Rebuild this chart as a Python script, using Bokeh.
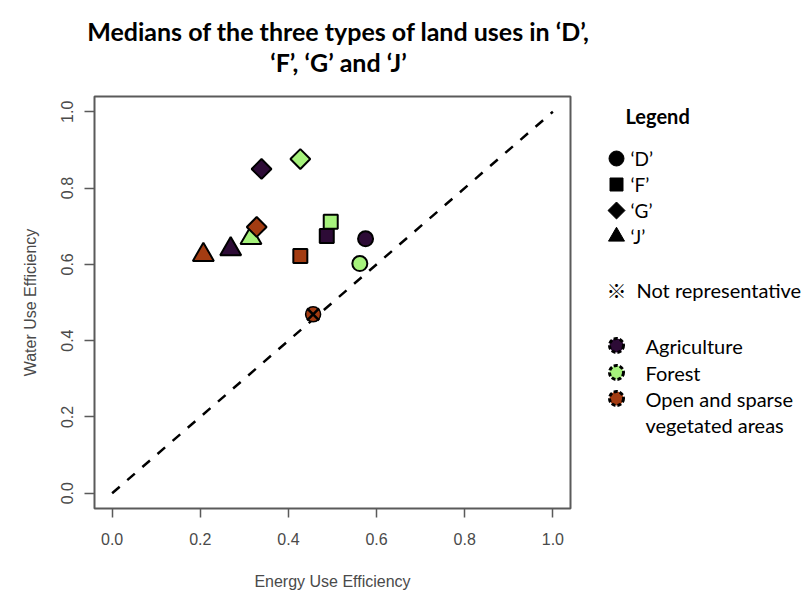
import math

from bokeh.core.properties import value
from bokeh.embed import file_html
from bokeh.layouts import column, row
from bokeh.models import ColumnDataSource, FixedTicker, Range1d
from bokeh.plotting import figure
from bokeh.resources import INLINE

# ---------------------------------------------------------------------------
# Data: median energy / water use efficiency per site and land-use type
# ---------------------------------------------------------------------------
sites = ["D", "F", "G", "J"]

agri_eue = [0.575, 0.487, 0.339, 0.269]
agri_wue = [0.667, 0.674, 0.850, 0.640]

forest_eue = [0.562, 0.496, 0.427, 0.315]
forest_wue = [0.602, 0.712, 0.876, 0.669]

open_eue = [0.456, 0.427, 0.328, 0.207]
open_wue = [0.469, 0.622, 0.698, 0.625]
open_representative = [False, True, True, True]

one_to_one = [0.0, 1.0]

tick_values = [0.0, 0.2, 0.4, 0.6, 0.8, 1.0]
tick_labels = ["0.0", "0.2", "0.4", "0.6", "0.8", "1.0"]

land_uses = ["Agriculture", "Forest", "Open and sparse", "vegetated areas"]

# ---------------------------------------------------------------------------
# Styling
# ---------------------------------------------------------------------------
AGRI = "#2d0b36"
FOREST = "#a6f27c"
OPEN = "#a33c12"
AXIS_GREY = "#4a4a4a"
BOX_GREY = "#5a5a5a"

# site -> (marker, size, angle)
SITE_SHAPE = {
    "D": ("circle", 15, 0.0),
    "F": ("square", 14, 0.0),
    "G": ("square", 14, math.pi / 4),  # diamond
    "J": ("triangle", 21, 0.0),
}

W, H = 802, 598
TITLE_H = 88
LEG_W = 212
MAIN_W = W - LEG_W
BODY_H = H - TITLE_H
BORDER_TOP, BORDER_BOTTOM = 8, 90
FRAME_TOP = TITLE_H + BORDER_TOP          # page y of the plot frame top
FRAME_BOTTOM = H - BORDER_BOTTOM          # page y of the plot frame bottom


def bare(fig):
    fig.axis.visible = False
    fig.grid.visible = False
    fig.outline_line_color = None
    fig.background_fill_color = "white"
    fig.border_fill_color = "white"
    return fig


# ---------------------------------------------------------------------------
# Title strip
# ---------------------------------------------------------------------------
tf = bare(figure(width=W, height=TITLE_H, x_range=Range1d(0, W), y_range=Range1d(TITLE_H, 0),
                 toolbar_location=None, output_backend="svg", min_border=0))
tf.text(x=[338, 338], y=[30, 61],
        text=["Medians of the three types of land uses in \u2018D\u2019,",
              "\u2018F\u2019, \u2018G\u2019 and \u2018J\u2019"],
        text_font=value("Lato"), text_font_size="25px", text_font_style="bold",
        text_align="center", text_baseline="middle", text_color="black")

# ---------------------------------------------------------------------------
# Main scatter plot
# ---------------------------------------------------------------------------
p = figure(width=MAIN_W, height=BODY_H,
           x_range=Range1d(-0.04, 1.04), y_range=Range1d(-0.04, 1.04),
           toolbar_location=None, output_backend="svg",
           min_border_left=94, min_border_right=MAIN_W - 94 - 476,
           min_border_top=BORDER_TOP, min_border_bottom=BORDER_BOTTOM)
p.grid.visible = False
p.background_fill_color = "white"
p.border_fill_color = "white"
p.outline_line_color = BOX_GREY
p.outline_line_width = 2

for ax in (p.xaxis[0], p.yaxis[0]):
    ax.ticker = FixedTicker(ticks=tick_values)
    ax.major_label_overrides = dict(zip(tick_values, tick_labels))
    ax.minor_tick_line_color = None
    ax.axis_line_color = None
    ax.major_tick_line_color = BOX_GREY
    ax.major_tick_line_width = 1.5
    ax.major_tick_in = 0
    ax.major_label_text_font = "Liberation Sans"
    ax.major_label_text_font_size = "16px"
    ax.major_label_text_color = AXIS_GREY
    ax.axis_label_text_font = "Liberation Sans"
    ax.axis_label_text_font_size = "16px"
    ax.axis_label_text_font_style = "normal"
    ax.axis_label_text_color = AXIS_GREY

p.xaxis.axis_label = "Energy Use Efficiency"
p.xaxis.major_tick_out = 9
p.xaxis.major_label_standoff = 15
p.xaxis.axis_label_standoff = 25

p.yaxis.axis_label = "Water Use Efficiency"
p.yaxis.major_tick_out = 10
p.yaxis.major_label_orientation = "vertical"
p.yaxis.major_label_standoff = 11
p.yaxis.axis_label_standoff = 20

# 1:1 reference line
p.line(one_to_one, one_to_one, line_color="black", line_width=2.5, line_dash="10 10")


def series_source(xs, ys):
    shapes = [SITE_SHAPE[s] for s in sites]
    return ColumnDataSource(dict(
        x=xs, y=ys, site=sites,
        marker=[s[0] for s in shapes],
        size=[s[1] for s in shapes],
        angle=[s[2] for s in shapes],
    ))


def keep(src, mask):
    return ColumnDataSource({k: [v for v, m in zip(vals, mask) if m]
                             for k, vals in src.data.items()})


agri_src = series_source(agri_eue, agri_wue)
forest_src = series_source(forest_eue, forest_wue)
open_src = series_source(open_eue, open_wue)

for src, colour in ((agri_src, AGRI), (forest_src, FOREST)):
    p.scatter("x", "y", source=src, marker="marker", size="size", angle="angle",
              fill_color=colour, line_color="black", line_width=2)

open_ok = keep(open_src, open_representative)
open_bad = keep(open_src, [not r for r in open_representative])
p.scatter("x", "y", source=open_ok, marker="marker", size="size", angle="angle",
          fill_color=OPEN, line_color="black", line_width=2)
p.scatter("x", "y", source=open_bad, marker="marker", size="size", angle="angle",
          fill_color=OPEN, line_color="black", line_width=1.5)
p.scatter("x", "y", source=open_bad, marker="x", size=17,
          line_color="black", line_width=2.5)

# ---------------------------------------------------------------------------
# Legend panel (page pixel coordinates; frame aligned with the plot frame)
# ---------------------------------------------------------------------------
lg = bare(figure(width=LEG_W, height=BODY_H,
                 x_range=Range1d(MAIN_W, W), y_range=Range1d(FRAME_BOTTOM, FRAME_TOP),
                 toolbar_location=None, output_backend="svg",
                 min_border_left=0, min_border_right=0,
                 min_border_top=BORDER_TOP, min_border_bottom=BORDER_BOTTOM))

LEG_FONT = value("Lato")

lg.text(x=[625], y=[115], text=["Legend"], text_font=LEG_FONT, text_font_size="20px",
        text_font_style="bold", text_baseline="middle", text_color="black")

shape_rows_y = [158, 184, 210, 236]
lg.scatter(x=[616] * 4, y=shape_rows_y,
           marker=["circle", "square", "square", "triangle"],
           size=[15, 13, 12, 16], angle=[0, 0, math.pi / 4, 0],
           fill_color="black", line_color="black")
lg.text(x=[630] * 4, y=shape_rows_y,
        text=["\u2018%s\u2019" % s for s in sites],
        text_font=LEG_FONT, text_font_size="19px", text_baseline="middle", text_color="black")

lg.text(x=[616], y=[290], text=["\u203b"], text_font=value("Noto Sans CJK JP"), text_font_size="20px",
        text_align="center", text_baseline="middle", text_color="black", text_font_style="bold")
lg.text(x=[636], y=[289], text=["Not representative"], text_font=LEG_FONT, text_font_size="20px",
        text_baseline="middle", text_color="black")

dot_y = [345, 372, 398]
lg.scatter(x=[616] * 3, y=dot_y, marker="circle", size=14,
           fill_color=[AGRI, FOREST, OPEN], line_color="black", line_width=3, line_dash="4 2")
lg.text(x=[645] * 4, y=[345, 372, 398, 424], text=land_uses,
        text_font=LEG_FONT, text_font_size="20px", text_baseline="middle", text_color="black")

layout = column(tf, row(p, lg, spacing=0), spacing=0)

open("out.html", "w").write(file_html(layout, INLINE, title="Land use efficiency medians"))
